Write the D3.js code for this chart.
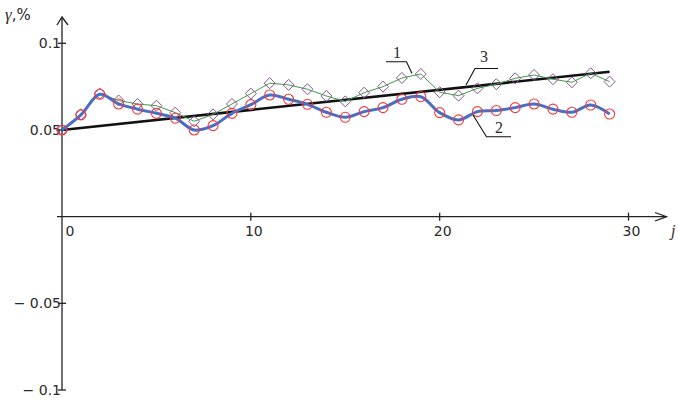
<!DOCTYPE html>
<html>
<head>
<meta charset="utf-8">
<script src="https://cdn.jsdelivr.net/npm/d3@7"></script>
<style>
  body { margin: 0; background: #fff; }
  svg { display: block; }
  text { font-family: "DejaVu Sans", Verdana, sans-serif; font-size: 14px; fill: #2a2a2a; }
</style>
</head>
<body>
<div id="chart"></div>
<script>
// j = 0..29
const steps = d3.range(0, 30);

// curve 1 (diamonds, thin green line)
const series1 = [0.050, 0.059, 0.071, 0.067, 0.065, 0.064, 0.060, 0.055, 0.059, 0.065,
                 0.071, 0.077, 0.076, 0.0735, 0.0696, 0.0665, 0.0715, 0.075, 0.080, 0.0823,
                 0.0718, 0.0698, 0.074, 0.0764, 0.0798, 0.0817, 0.0793, 0.0775, 0.0827, 0.0779];

// curve 2 (circles, thick blue line)
const series2 = [0.050, 0.0587, 0.0706, 0.065, 0.062, 0.0596, 0.0568, 0.050, 0.0525, 0.0596,
                 0.0646, 0.0702, 0.0677, 0.0648, 0.0602, 0.0573, 0.0606, 0.0629, 0.0677, 0.0692,
                 0.060, 0.0558, 0.0606, 0.0612, 0.0629, 0.065, 0.062, 0.0602, 0.0644, 0.0592];

// curve 3 (straight black line)
const series3 = [[0, 0.050], [29, 0.0836]];

const xTicks = [0, 10, 20, 30];
const yTicks = [0.1, 0.05, -0.05, -0.1];

const width = 678;
const height = 402;

const svg = d3.select('#chart')
  .append('svg')
  .attr('width', width)
  .attr('height', height);

// scales
const x = d3.scaleLinear().domain([0, 30]).range([62, 628.5]);
const y = d3.scaleLinear().domain([-0.1, 0.1]).range([390, 43.3]);

const x0 = x(0);
const y0 = y(0);

// axes
const axes = svg.append('g').attr('stroke', '#222').attr('stroke-width', 1.3).attr('fill', 'none');
axes.append('line').attr('x1', x0).attr('x2', x0).attr('y1', y(-0.1)).attr('y2', 17);
axes.append('path').attr('d', `M${x0 - 5},25 L${x0},17 L${x0 + 6},25`);
axes.append('line').attr('x1', 57).attr('x2', 666).attr('y1', y0).attr('y2', y0);
axes.append('path').attr('d', `M655,212.5 L666.5,${y0} L655,221`);

// ticks
axes.selectAll('.ytick')
  .data(yTicks)
  .enter()
  .append('line')
  .attr('x1', x0 - 4).attr('x2', x0 + 4)
  .attr('y1', d => y(d)).attr('y2', d => y(d));

axes.selectAll('.xtick')
  .data(xTicks.filter(d => d !== 0))
  .enter()
  .append('line')
  .attr('x1', d => x(d)).attr('x2', d => x(d))
  .attr('y1', y0 - 4).attr('y2', y0 + 4);

// tick labels
svg.selectAll('.ylabel')
  .data(yTicks)
  .enter()
  .append('text')
  .attr('x', x0 - 1)
  .attr('y', d => y(d) + 5)
  .attr('text-anchor', 'end')
  .text(d => (d < 0 ? '\u2212 ' + d3.format('')(-d) : d3.format('')(d)));

svg.selectAll('.xlabel')
  .data(xTicks)
  .enter()
  .append('text')
  .attr('x', d => d === 0 ? x0 + 8 : x(d) + 3)
  .attr('y', y0 + 19)
  .attr('text-anchor', 'middle')
  .text(d => d);

// axis titles
svg.append('text')
  .attr('x', 5).attr('y', 20)
  .style('font-size', '15px')
  .html('<tspan font-style="italic" font-family="Liberation Serif, serif" font-size="17px">\u03b3</tspan>,%');

svg.append('text')
  .attr('x', 671).attr('y', 236)
  .style('font-family', '"Liberation Serif", serif')
  .style('font-style', 'italic')
  .style('font-size', '16px')
  .text('j');

// curve 3
const line3 = d3.line().x(d => x(d[0])).y(d => y(d[1]));
svg.append('path')
  .datum(series3)
  .attr('d', line3)
  .attr('fill', 'none')
  .attr('stroke', '#111')
  .attr('stroke-width', 2.6);

// curve 1
const line1 = d3.line().x((d, i) => x(steps[i])).y(d => y(d));
svg.append('path')
  .datum(series1)
  .attr('d', line1)
  .attr('fill', 'none')
  .attr('stroke', '#3d9a47')
  .attr('stroke-width', 1);

svg.selectAll('.diamond')
  .data(series1)
  .enter()
  .append('path')
  .attr('d', (d, i) => {
    const cx = x(steps[i]), cy = y(d), r = 5.5;
    return `M${cx},${cy - r} L${cx + r},${cy} L${cx},${cy + r} L${cx - r},${cy} Z`;
  })
  .attr('fill', 'none')
  .attr('stroke', '#86538f')
  .attr('stroke-width', 1);

// curve 2
const line2 = d3.line().x((d, i) => x(steps[i])).y(d => y(d)).curve(d3.curveCatmullRom.alpha(0.5));
svg.append('path')
  .datum(series2)
  .attr('d', line2)
  .attr('fill', 'none')
  .attr('stroke', '#4a6ec4')
  .attr('stroke-width', 3);

svg.selectAll('.circle')
  .data(series2)
  .enter()
  .append('circle')
  .attr('cx', (d, i) => x(steps[i]))
  .attr('cy', d => y(d))
  .attr('r', 5)
  .attr('fill', 'none')
  .attr('stroke', '#f03a3a')
  .attr('stroke-width', 1.1);

// curve labels with leader lines
const labels = [
  { t: '1', tx: 397, ty: 58, p: 'M386,61.7 L406.5,61.7 L412,73.5' },
  { t: '3', tx: 484, ty: 62, p: 'M498,68.5 L475,68.5 L466,85' },
  { t: '2', tx: 499, ty: 133, p: 'M473,115 L486.5,136.7 L511,136.7' }
];

const lab = svg.append('g');
lab.selectAll('path')
  .data(labels)
  .enter()
  .append('path')
  .attr('d', d => d.p)
  .attr('fill', 'none')
  .attr('stroke', '#111')
  .attr('stroke-width', 1.1);

lab.selectAll('text')
  .data(labels)
  .enter()
  .append('text')
  .attr('x', d => d.tx)
  .attr('y', d => d.ty)
  .attr('text-anchor', 'middle')
  .style('font-family', '"Liberation Serif", serif')
  .style('font-size', '16px')
  .text(d => d.t);
</script>
</body>
</html>
